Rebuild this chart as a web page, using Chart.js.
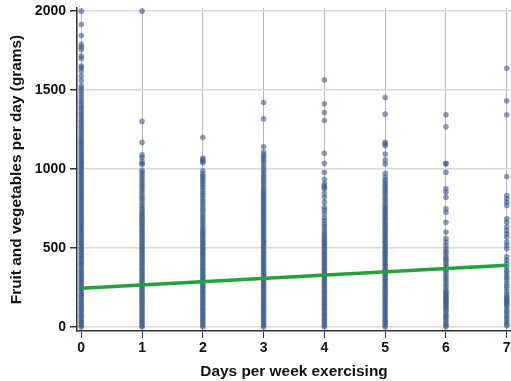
<!DOCTYPE html>
<html>
<head>
<meta charset="utf-8">
<script src="https://cdn.jsdelivr.net/npm/chart.js@4.4.1/dist/chart.umd.min.js"></script>
<style>
  html, body { margin: 0; padding: 0; background: #fff; }
  #wrap { width: 511px; height: 381px; }
</style>
</head>
<body>
<div id="wrap"><canvas id="fvChart" width="511" height="381"></canvas></div>
<script>
// days per week exercising (x) and grams of fruit/veg per day (y), one list per day
const days = [0, 1, 2, 3, 4, 5, 6, 7];
const fv0 = [0, 8, 20, 33, 41, 55, 68, 77, 90, 104, 115, 126, 140, 152, 161, 175, 188, 199, 210, 224, 236, 245, 259, 270, 283, 296, 305, 318, 330, 342, 355, 364, 378, 391, 400, 412, 425, 437, 449, 460, 474, 486, 495, 508, 520, 533, 545, 556, 569, 580, 592, 605, 617, 628, 640, 653, 664, 676, 689, 700, 712, 725, 736, 748, 760, 773, 785, 796, 808, 820, 833, 845, 856, 869, 880, 893, 905, 916, 928, 940, 953, 965, 977, 988, 1000, 1012, 1025, 1037, 1048, 1060, 1073, 1085, 1096, 1108, 1120, 1134, 1146, 1158, 1170, 1183, 1195, 1210, 1226, 1240, 1255, 1268, 1284, 1300, 1313, 1330, 1346, 1360, 1378, 1392, 1408, 1425, 1440, 1458, 1476, 1495, 1512, 1527, 1560, 1590, 1621, 1642, 1653, 1701, 1716, 1758, 1773, 1790, 1846, 1916, 2000];
const fv1 = [0, 9, 22, 34, 45, 58, 70, 81, 94, 106, 117, 130, 142, 153, 166, 178, 189, 202, 214, 225, 238, 250, 261, 274, 286, 297, 310, 322, 333, 346, 358, 369, 382, 394, 405, 418, 430, 441, 454, 466, 477, 490, 502, 513, 526, 538, 549, 562, 574, 585, 598, 610, 621, 634, 646, 657, 670, 682, 693, 706, 718, 730, 745, 758, 772, 790, 806, 818, 835, 852, 868, 884, 897, 912, 930, 946, 962, 978, 992, 1030, 1035, 1050, 1075, 1090, 1169, 1302, 2000];
const fv2 = [0, 11, 24, 36, 47, 60, 72, 83, 96, 108, 119, 132, 144, 155, 168, 180, 191, 204, 216, 227, 240, 252, 263, 276, 288, 299, 312, 324, 335, 348, 360, 371, 384, 396, 407, 420, 432, 443, 456, 468, 479, 492, 504, 515, 528, 540, 551, 564, 576, 587, 600, 612, 625, 641, 655, 672, 688, 703, 720, 738, 752, 770, 786, 801, 818, 836, 850, 868, 885, 900, 915, 930, 943, 955, 970, 990, 1040, 1050, 1060, 1070, 1200];
const fv3 = [0, 10, 23, 35, 46, 59, 71, 82, 95, 107, 118, 131, 143, 154, 167, 179, 190, 203, 215, 226, 239, 251, 262, 275, 287, 298, 311, 323, 334, 347, 359, 370, 383, 395, 406, 419, 431, 442, 455, 467, 478, 491, 503, 514, 527, 539, 550, 563, 575, 586, 599, 611, 622, 635, 647, 658, 671, 683, 694, 707, 719, 730, 743, 755, 766, 779, 791, 802, 815, 827, 838, 851, 863, 876, 890, 905, 918, 933, 948, 962, 980, 996, 1012, 1030, 1048, 1062, 1078, 1090, 1106, 1142, 1318, 1421];
const fv4 = [0, 12, 24, 37, 48, 61, 73, 84, 97, 109, 120, 133, 145, 156, 169, 181, 192, 205, 217, 228, 241, 253, 264, 277, 289, 300, 313, 325, 336, 349, 361, 372, 385, 397, 408, 421, 433, 444, 457, 469, 480, 493, 505, 516, 529, 541, 552, 565, 578, 591, 607, 623, 640, 654, 675, 690, 717, 740, 759, 790, 822, 845, 875, 883, 896, 908, 935, 980, 1037, 1100, 1308, 1358, 1413, 1565];
const fv5 = [0, 11, 23, 36, 47, 60, 72, 83, 96, 108, 119, 132, 144, 155, 168, 180, 191, 204, 216, 227, 240, 252, 263, 276, 288, 299, 312, 324, 335, 348, 360, 371, 384, 396, 407, 420, 432, 443, 456, 468, 479, 492, 504, 515, 528, 540, 551, 564, 576, 587, 600, 612, 623, 636, 648, 659, 672, 684, 695, 708, 720, 731, 744, 756, 770, 785, 800, 815, 832, 848, 862, 877, 890, 903, 918, 933, 950, 974, 1033, 1058, 1096, 1148, 1160, 1169, 1348, 1453];
const fv6 = [2, 12, 23, 40, 55, 65, 76, 90, 107, 118, 128, 140, 150, 160, 170, 180, 191, 200, 212, 222, 233, 250, 265, 280, 297, 312, 328, 345, 360, 375, 391, 405, 423, 433, 445, 465, 480, 496, 517, 538, 560, 601, 664, 727, 749, 822, 854, 875, 980, 1033, 1037, 1268, 1344];
const fv7 = [8, 20, 33, 50, 65, 80, 97, 110, 128, 140, 150, 160, 170, 180, 191, 205, 223, 244, 260, 276, 297, 312, 328, 345, 360, 380, 402, 423, 444, 496, 517, 538, 570, 591, 612, 633, 664, 686, 770, 790, 812, 833, 953, 1344, 1432, 1638];

// fitted trend line end points
const fitX = [0, 7];
const fitY = [246, 391];

const yTicks = [0, 500, 1000, 1500, 2000];
const xTicks = [0, 1, 2, 3, 4, 5, 6, 7];

(function () {
  const columns = [fv0, fv1, fv2, fv3, fv4, fv5, fv6, fv7];
  const points = [];
  columns.forEach((col, i) => {
    col.forEach(v => points.push({ x: days[i], y: v }));
  });
  const fitPoints = fitX.map((x, i) => ({ x: x, y: fitY[i] }));

  const fam = 'Liberation Sans, Arial, sans-serif';
  const tickFont = { family: fam, size: 14, weight: 'bold' };
  const xTickFont = { family: fam, size: 14, weight: 'bold', lineHeight: 1.5 };
  const titleFont = { family: fam, size: 15.4, weight: 'bold' };

  const ctx = document.getElementById('fvChart').getContext('2d');
  new Chart(ctx, {
    type: 'scatter',
    data: {
      datasets: [
        {
          type: 'line',
          data: fitPoints,
          borderColor: '#22a33d',
          borderWidth: 3.5,
          pointRadius: 0,
          fill: false,
          order: 0
        },
        {
          data: points,
          backgroundColor: 'rgba(58, 92, 142, 0.6)',
          borderWidth: 0,
          pointRadius: 2.8,
          pointHoverRadius: 2.8,
          clip: false,
          order: 1
        }
      ]
    },
    options: {
      responsive: false,
      animation: false,
      events: [],
      layout: { autoPadding: false, padding: { left: 0, right: 0, top: 8, bottom: 0 } },
      scales: {
        x: {
          type: 'linear',
          min: -0.07,
          max: 7.07,
          afterFit: s => { s.height = 50; s.paddingLeft = 0; s.paddingRight = 0; },
          afterBuildTicks: s => { s.ticks = xTicks.map(v => ({ value: v })); },
          ticks: { color: '#111', font: xTickFont, padding: 0, maxRotation: 0, callback: v => String(v) },
          grid: { color: '#b8b8b8', lineWidth: 1, tickColor: '#333', tickLength: 7 },
          border: { color: '#333', width: 1.5 },
          title: {
            display: true,
            text: 'Days per week exercising',
            color: '#111',
            font: titleFont,
            padding: { top: 0, bottom: 0 }
          }
        },
        y: {
          min: -25,
          max: 2020,
          afterFit: s => { s.width = 77; s.paddingTop = 0; s.paddingBottom = 0; },
          afterBuildTicks: s => { s.ticks = yTicks.map(v => ({ value: v })); },
          ticks: { color: '#111', font: tickFont, padding: 4, callback: v => String(v) },
          grid: { color: '#d9d9d9', lineWidth: 1.5, tickColor: '#333', tickLength: 7 },
          border: { color: '#333', width: 1.5 },
          title: {
            display: true,
            text: 'Fruit and vegetables per day (grams)',
            color: '#111',
            font: titleFont,
            padding: { top: 8, bottom: 0 }
          }
        }
      },
      plugins: {
        legend: { display: false },
        tooltip: { enabled: false }
      }
    }
  });
})();
</script>
</body>
</html>
